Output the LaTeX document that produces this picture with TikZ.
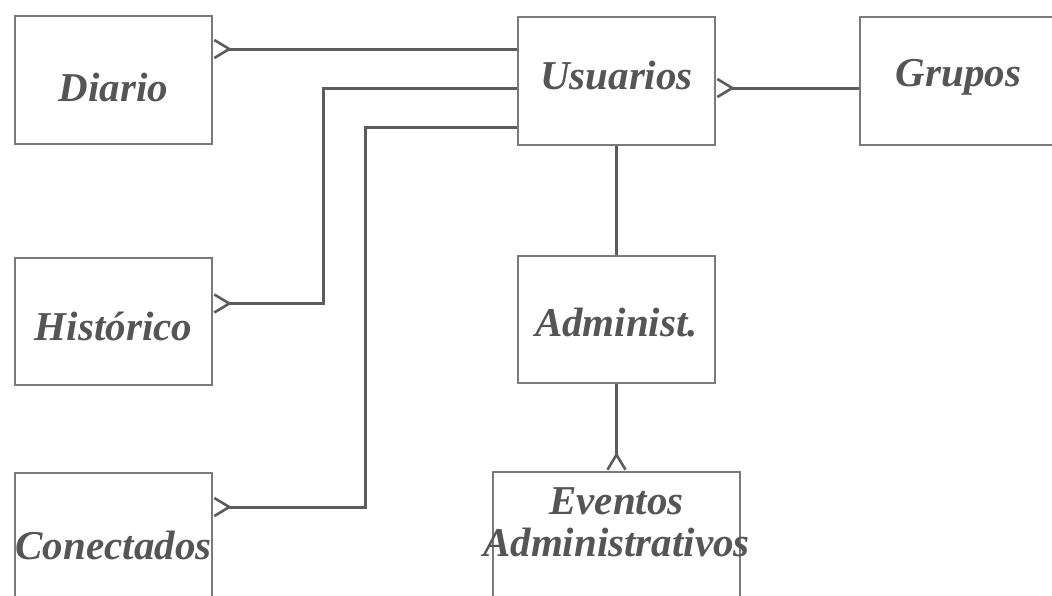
\documentclass[tikz,border=0pt]{standalone}
\usepackage{fontspec}
\setmainfont{Liberation Serif}
\usetikzlibrary{arrows.meta}

\definecolor{linegray}{HTML}{5C5C5C}
\definecolor{boxgray}{HTML}{7A7A7A}
\definecolor{textgray}{HTML}{555555}

% mueve el texto sin cambiar su caja
\newcommand{\nudge}[2]{\raisebox{#1}[\height][\depth]{#2}}

\tikzset{
  entity/.style={draw=boxgray, line width=2pt, fill=white, minimum width=197pt,
    inner sep=0pt, font=\fontsize{41}{47}\selectfont\bfseries\itshape, text=textgray},
  entitytext/.style={inner sep=0pt, align=center,
    font=\fontsize{41}{46}\selectfont\bfseries\itshape, text=textgray},
  link/.style={draw=linegray, line width=3pt},
  crow/.style={{Straight Barb[reversed,length=15pt,width=18pt,line width=2.6pt]}-},
}

\begin{document}
\begin{tikzpicture}[x=1pt, y=-1pt, line join=miter]

  %% ---- entidades ----
  \node[entity, minimum height=128pt] (diario)   at (113.5,80)  {\nudge{-7pt}{Diario}};
  \node[entity, minimum height=128pt] (usuarios) at (616.5,81)  {\nudge{5pt}{Usuarios}};
  \node[entity, minimum height=128pt] (grupos)   at (958.5,81)  {\nudge{4pt}{Grupos}};
  \node[entity, minimum height=127pt] (historico) at (113.5,321.5) {\nudge{-5pt}{Hist\'orico}};
  \node[entity, minimum height=127pt] (admin)    at (616.5,319.5) {\nudge{-3pt}{Administ.}};
  \node[entity, minimum height=144pt] (conect)   at (113.5,545) {Conectados};
  \node[entity, minimum width=247pt, minimum height=168pt] (eventos) at (616.5,556) {};
  \node[entitytext] (eventostxt) at (616.5,522) {Eventos\\[-4pt]Administrativos};

  %% ---- relaciones ----
  \draw[link, crow] ([yshift=-34pt]diario.north east) -- ([yshift=-33pt]usuarios.north west);
  \draw[link, crow] ([yshift=18pt]historico.east) -- ++(110,0) |- ([yshift=-7pt]usuarios.west);
  \draw[link, crow] ([yshift=38pt]conect.east) -- ++(152,0) |- ([yshift=-46pt]usuarios.west);
  \draw[link, crow] ([yshift=-7pt]usuarios.east) -- ([yshift=-7pt]grupos.west);
  \draw[link] (usuarios.south) -- (admin.north);
  \draw[link, crow] (eventos.north) -- (admin.south);

  % lienzo fijo
  \pgfresetboundingbox
  \path[use as bounding box] (0,0) rectangle (1052,595);
\end{tikzpicture}
\end{document}
